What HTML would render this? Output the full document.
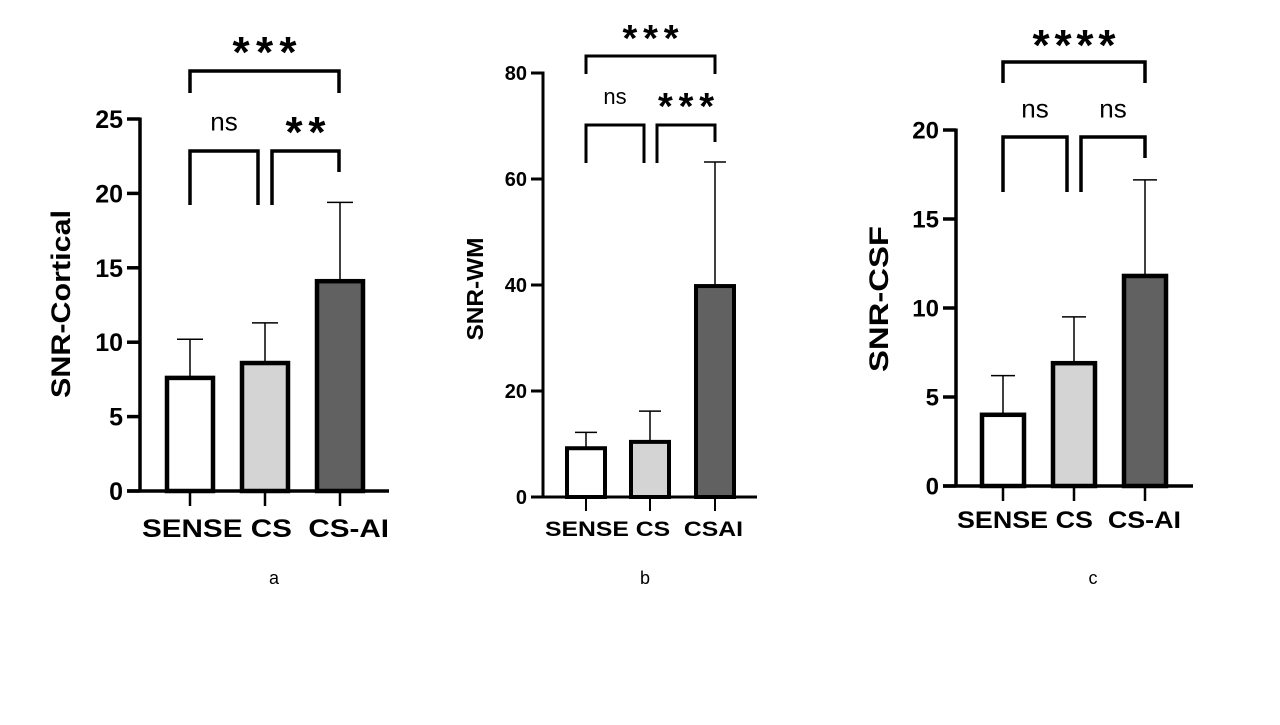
<!DOCTYPE html>
<html><head><meta charset="utf-8"><style>
body{margin:0;background:#fff;width:1280px;height:720px;overflow:hidden}
svg{font-family:"Liberation Sans",Arial,sans-serif}
</style></head><body>
<svg id="s" width="1280" height="720"></svg>
<script>
const categoriesA=["SENSE","CS","CS-AI"];
const valuesA=[7.6,8.6,14.1];
const errorsA=[10.2,11.3,19.4];
const ticksA=[0,5,10,15,20,25];
const categoriesB=["SENSE","CS","CSAI"];
const valuesB=[9.2,10.4,39.8];
const errorsB=[12.2,16.2,63.2];
const ticksB=[0,20,40,60,80];
const categoriesC=["SENSE","CS","CS-AI"];
const valuesC=[4.0,6.9,11.8];
const errorsC=[6.2,9.5,17.2];
const ticksC=[0,5,10,15,20];
const sigA=["ns","**","***"];
const sigB=["ns","***","***"];
const sigC=["ns","ns","****"];
const fills=["#ffffff","#d4d4d4","#616161"];
const NS="http://www.w3.org/2000/svg";
const svg=document.getElementById('s');
function mk(tag,attrs,parent){const e=document.createElementNS(NS,tag);for(const k in attrs)e.setAttribute(k,attrs[k]);(parent||svg).appendChild(e);return e;}
function chart(o){
  const g=mk('g',{});
  
  
  const y=v=>o.y0-(v/o.max)*(o.y0-o.yTop);
  const x=i=>o.xc[i];
  o.vals.forEach((v,i)=>{
    const el=mk('line',{x1:x(i),x2:x(i),y1:y(v),y2:y(o.errs[i]),stroke:'#000','stroke-width':1.5},g);
    
    
    const cap=mk('line',{x1:x(i)-o.cap,x2:x(i)+o.cap,y1:y(o.errs[i]),y2:y(o.errs[i]),stroke:'#000','stroke-width':1.5},g);
    
    
    const r=mk('rect',{x:x(i)-o.bw/2,y:y(v),width:o.bw,height:o.y0-y(v),fill:fills[i],stroke:'#000','stroke-width':o.sw},g);
    
    
  });
  const ya=mk('line',{x1:o.ax,x2:o.ax,y1:o.yTop-1.5,y2:o.y0,stroke:'#000','stroke-width':o.aw},g);
  
  
  const xa=mk('line',{x1:o.ax-o.tl,x2:o.xEnd,y1:o.y0,y2:o.y0,stroke:'#000','stroke-width':o.aw},g);
  
  
  o.ticks.forEach(t=>{
    mk('line',{x1:o.ax-o.tl,x2:o.ax,y1:y(t),y2:y(t),stroke:'#000','stroke-width':o.aw},g);
    const tx=mk('text',{x:o.ax-o.tl-4,y:y(t)+o.tf*0.36,'text-anchor':'end','font-size':o.tf,'font-weight':'bold'},g);
    tx.textContent=t;
    
    
  });
  o.cats.forEach((c,i)=>{
    mk('line',{x1:x(i),x2:x(i),y1:o.y0,y2:o.y0+o.tl+2,stroke:'#000','stroke-width':o.aw-1},g);
  });
  const xl=mk('text',{x:o.xl0,y:o.xly,'font-size':o.xf,'font-weight':'bold',textLength:o.xlw,lengthAdjust:'spacingAndGlyphs'},g);
  xl.textContent=o.cats.join(' ').replace(/ (CS-AI|CSAI)$/,'\u00a0\u00a0$1');
  
  
  const yt=mk('text',{x:0,y:0,'font-size':o.yf,'font-weight':'bold','text-anchor':'middle',textLength:o.ytl,lengthAdjust:'spacingAndGlyphs',transform:`translate(${o.ytx},${o.ytc}) rotate(-90)`},g);
  yt.textContent=o.title;
  
  
  const br=(x1,x2,yy,d1,d2,lab,tc,tw,nm)=>{
    const p=mk('path',{d:`M${x1},${d1}V${yy}H${x2}V${d2}`,fill:'none',stroke:'#000','stroke-width':o.bkw},g);
    
    
    let t;
    if(lab==='ns'){
      t=mk('text',{x:(x1+x2)/2,y:tc+o.nsf*0.28,'font-size':o.nsf,'text-anchor':'middle'},g);
    }else{
      t=mk('text',{x:(x1+x2)/2-tw/2,y:tc+o.stf*0.55,'font-size':o.stf,'font-weight':'bold',textLength:tw,lengthAdjust:'spacing'},g);
    }
    t.textContent=lab;
    
    
  };
  const b=o.br;
  br(b.x[0],b.x[1],b.low,b.d1,b.d1,o.sig[0],b.lt,b.w[0],'bracket-1-2');
  br(b.x[2],b.x[3],b.low,b.d1,b.d2,o.sig[1],b.lt,b.w[1],'bracket-2-3');
  br(b.x[0],b.x[3],b.top,b.td,b.td,o.sig[2],b.tt,b.w[2],'bracket-1-3');
  const cap=mk('text',{x:o.capx,y:584,'font-size':18,'text-anchor':'middle'},g);
  cap.textContent=o.capt;
  
  
}
chart({name:'chart-a',cats:categoriesA,vals:valuesA,errs:errorsA,ticks:ticksA,max:25,sig:sigA,
 y0:491,yTop:119,ax:140,tl:13,xEnd:389,xc:[190,265,340],bw:46,sw:4.5,aw:3.5,cap:13,tf:25,xf:25,yf:27,
 xl0:142,xlw:247,xly:537,ytx:70,ytc:304,ytl:188,title:'SNR-Cortical',bkw:3.5,nsf:26,stf:44,
 br:{x:[190,258,272,339],low:151,d1:205,d2:172,top:71,td:93,lt:123,tt:43,w:[0,40,64]},capx:274,capt:'a'});
chart({name:'chart-b',cats:categoriesB,vals:valuesB,errs:errorsB,ticks:ticksB,max:80,sig:sigB,
 y0:497,yTop:73,ax:543,tl:12,xEnd:757,xc:[586,650,715],bw:38,sw:4,aw:3,cap:11,tf:20,xf:21,yf:23,
 xl0:545,xlw:198,xly:536,ytx:483,ytc:289,ytl:103,title:'SNR-WM',bkw:3,nsf:22,stf:38,
 br:{x:[586,644,657,715],low:125,d1:163,d2:142,top:56,td:74,lt:98,tt:30,w:[0,56,56]},capx:645,capt:'b'});
chart({name:'chart-c',cats:categoriesC,vals:valuesC,errs:errorsC,ticks:ticksC,max:20,sig:sigC,
 y0:486,yTop:130,ax:956,tl:13,xEnd:1193,xc:[1003,1074,1145],bw:42,sw:4.5,aw:3.5,cap:12,tf:24,xf:24,yf:27,
 xl0:957,xlw:224,xly:528,ytx:888,ytc:299,ytl:146,title:'SNR-CSF',bkw:3.5,nsf:26,stf:44,
 br:{x:[1003,1067,1081,1145],low:137,d1:192,d2:158,top:62,td:83,lt:110,tt:36,w:[0,0,83]},capx:1093,capt:'c'});
</script>
</body></html>
